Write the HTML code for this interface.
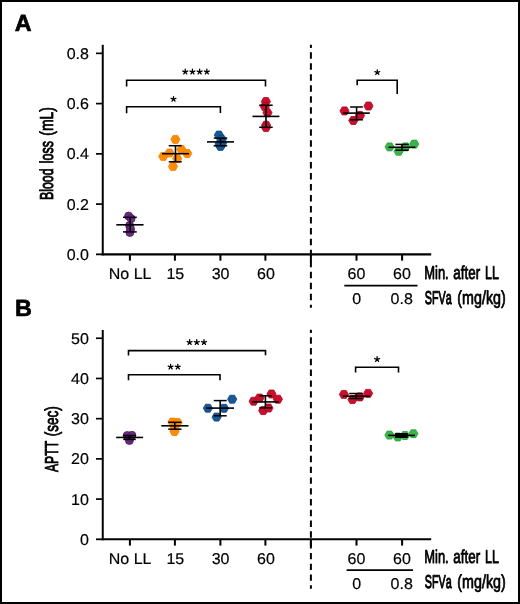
<!DOCTYPE html>
<html><head><meta charset="utf-8"><style>
html,body{margin:0;padding:0;background:#fff;}
body{width:520px;height:604px;overflow:hidden;}
svg{display:block;will-change:transform;}
text{font-family:"Liberation Sans", sans-serif;fill:#000;font-kerning:none;text-rendering:geometricPrecision;}
</style></head><body>
<svg width="520" height="604" viewBox="0 0 520 604">
<rect x="1" y="1" width="518" height="602" fill="#fff" stroke="#000" stroke-width="2"/>
<line x1="102.75" y1="44.8" x2="102.75" y2="255.35" stroke="#000" stroke-width="2" />
<line x1="96" y1="53.35" x2="102.75" y2="53.35" stroke="#000" stroke-width="1.7" />
<text transform="translate(88.90,58.95) scale(1.0000,0.9750)" font-size="16" text-anchor="end" stroke="#000" stroke-width="0.2" stroke-linejoin="round">0.8</text>
<line x1="96" y1="103.6" x2="102.75" y2="103.6" stroke="#000" stroke-width="1.7" />
<text transform="translate(88.90,109.20) scale(1.0000,0.9750)" font-size="16" text-anchor="end" stroke="#000" stroke-width="0.2" stroke-linejoin="round">0.6</text>
<line x1="96" y1="153.85" x2="102.75" y2="153.85" stroke="#000" stroke-width="1.7" />
<text transform="translate(88.90,159.45) scale(1.0000,0.9750)" font-size="16" text-anchor="end" stroke="#000" stroke-width="0.2" stroke-linejoin="round">0.4</text>
<line x1="96" y1="204.1" x2="102.75" y2="204.1" stroke="#000" stroke-width="1.7" />
<text transform="translate(88.90,209.70) scale(1.0000,0.9750)" font-size="16" text-anchor="end" stroke="#000" stroke-width="0.2" stroke-linejoin="round">0.2</text>
<line x1="96" y1="254.35" x2="102" y2="254.35" stroke="#000" stroke-width="1.8" />
<line x1="101.75" y1="254.35" x2="431.2" y2="254.35" stroke="#000" stroke-width="2.1" />
<line x1="129.9" y1="254.35" x2="129.9" y2="260.65" stroke="#000" stroke-width="2" />
<line x1="174.9" y1="254.35" x2="174.9" y2="260.65" stroke="#000" stroke-width="2" />
<line x1="220.4" y1="254.35" x2="220.4" y2="260.65" stroke="#000" stroke-width="2" />
<line x1="265.4" y1="254.35" x2="265.4" y2="260.65" stroke="#000" stroke-width="2" />
<line x1="356.5" y1="254.35" x2="356.5" y2="260.65" stroke="#000" stroke-width="2" />
<line x1="402.1" y1="254.35" x2="402.1" y2="260.65" stroke="#000" stroke-width="2" />
<text transform="translate(130.10,279.00) scale(1.0000,0.9750)" font-size="16" text-anchor="middle" stroke="#000" stroke-width="0.2" stroke-linejoin="round">No LL</text>
<text transform="translate(175.30,279.00) scale(1.0000,0.9750)" font-size="16" text-anchor="middle" stroke="#000" stroke-width="0.2" stroke-linejoin="round">15</text>
<text transform="translate(220.60,279.00) scale(1.0000,0.9750)" font-size="16" text-anchor="middle" stroke="#000" stroke-width="0.2" stroke-linejoin="round">30</text>
<text transform="translate(265.90,279.00) scale(1.0000,0.9750)" font-size="16" text-anchor="middle" stroke="#000" stroke-width="0.2" stroke-linejoin="round">60</text>
<text transform="translate(356.50,279.00) scale(1.0000,0.9750)" font-size="16" text-anchor="middle" stroke="#000" stroke-width="0.2" stroke-linejoin="round">60</text>
<text transform="translate(401.90,279.00) scale(1.0000,0.9750)" font-size="16" text-anchor="middle" stroke="#000" stroke-width="0.2" stroke-linejoin="round">60</text>
<line x1="344.3" y1="285.6" x2="417.5" y2="285.6" stroke="#000" stroke-width="1.8" />
<text transform="translate(356.70,304.00) scale(1.0000,0.9750)" font-size="16" text-anchor="middle" stroke="#000" stroke-width="0.2" stroke-linejoin="round">0</text>
<text transform="translate(401.70,304.00) scale(1.0000,0.9750)" font-size="16" text-anchor="middle" stroke="#000" stroke-width="0.2" stroke-linejoin="round">0.8</text>
<text transform="translate(424.24,278.72) scale(0.6810,0.9870)" font-size="19" stroke="#000" stroke-width="0.881" stroke-linejoin="round">Min.</text>
<text transform="translate(453.23,278.73) scale(0.7074,0.9894)" font-size="19" stroke="#000" stroke-width="0.848" stroke-linejoin="round">after</text>
<text transform="translate(484.97,278.70) scale(0.6598,0.9850)" font-size="19" stroke="#000" stroke-width="0.909" stroke-linejoin="round">LL</text>
<text transform="translate(424.81,303.53) scale(0.5658,0.9745)" font-size="19" stroke="#000" stroke-width="1.06" stroke-linejoin="round">SFVa</text>
<text transform="translate(457.31,303.65) scale(0.7528,0.9930)" font-size="19" stroke="#000" stroke-width="0.797" stroke-linejoin="round">(mg/kg)</text>
<text transform="translate(53.30,200.12) rotate(-90) scale(0.6527,0.9843)" font-size="19" stroke="#000" stroke-width="0.919" stroke-linejoin="round">Blood</text>
<text transform="translate(53.30,163.34) rotate(-90) scale(0.6599,0.9850)" font-size="19" stroke="#000" stroke-width="0.909" stroke-linejoin="round">loss</text>
<text transform="translate(53.34,135.66) rotate(-90) scale(0.7304,0.9913)" font-size="19" stroke="#000" stroke-width="0.821" stroke-linejoin="round">(mL)</text>
<text transform="translate(88.90,259.95) scale(1.0000,0.9750)" font-size="16" text-anchor="end" stroke="#000" stroke-width="0.2" stroke-linejoin="round">0.0</text>
<line x1="102.75" y1="330" x2="102.75" y2="540.3" stroke="#000" stroke-width="2" />
<line x1="96" y1="338.25" x2="102.75" y2="338.25" stroke="#000" stroke-width="1.7" />
<text transform="translate(88.90,343.85) scale(1.0000,0.9750)" font-size="16" text-anchor="end" stroke="#000" stroke-width="0.2" stroke-linejoin="round">50</text>
<line x1="96" y1="378.46" x2="102.75" y2="378.46" stroke="#000" stroke-width="1.7" />
<text transform="translate(88.90,384.06) scale(1.0000,0.9750)" font-size="16" text-anchor="end" stroke="#000" stroke-width="0.2" stroke-linejoin="round">40</text>
<line x1="96" y1="418.67" x2="102.75" y2="418.67" stroke="#000" stroke-width="1.7" />
<text transform="translate(88.90,424.27) scale(1.0000,0.9750)" font-size="16" text-anchor="end" stroke="#000" stroke-width="0.2" stroke-linejoin="round">30</text>
<line x1="96" y1="458.88" x2="102.75" y2="458.88" stroke="#000" stroke-width="1.7" />
<text transform="translate(88.90,464.48) scale(1.0000,0.9750)" font-size="16" text-anchor="end" stroke="#000" stroke-width="0.2" stroke-linejoin="round">20</text>
<line x1="96" y1="499.09" x2="102.75" y2="499.09" stroke="#000" stroke-width="1.7" />
<text transform="translate(88.90,504.69) scale(1.0000,0.9750)" font-size="16" text-anchor="end" stroke="#000" stroke-width="0.2" stroke-linejoin="round">10</text>
<line x1="96" y1="539.3" x2="102" y2="539.3" stroke="#000" stroke-width="1.8" />
<line x1="101.75" y1="539.3" x2="431.2" y2="539.3" stroke="#000" stroke-width="2.1" />
<line x1="129.9" y1="539.3" x2="129.9" y2="545.5999999999999" stroke="#000" stroke-width="2" />
<line x1="174.9" y1="539.3" x2="174.9" y2="545.5999999999999" stroke="#000" stroke-width="2" />
<line x1="220.4" y1="539.3" x2="220.4" y2="545.5999999999999" stroke="#000" stroke-width="2" />
<line x1="265.4" y1="539.3" x2="265.4" y2="545.5999999999999" stroke="#000" stroke-width="2" />
<line x1="356.5" y1="539.3" x2="356.5" y2="545.5999999999999" stroke="#000" stroke-width="2" />
<line x1="402.1" y1="539.3" x2="402.1" y2="545.5999999999999" stroke="#000" stroke-width="2" />
<text transform="translate(130.10,563.70) scale(1.0000,0.9750)" font-size="16" text-anchor="middle" stroke="#000" stroke-width="0.2" stroke-linejoin="round">No LL</text>
<text transform="translate(175.30,563.70) scale(1.0000,0.9750)" font-size="16" text-anchor="middle" stroke="#000" stroke-width="0.2" stroke-linejoin="round">15</text>
<text transform="translate(220.60,563.70) scale(1.0000,0.9750)" font-size="16" text-anchor="middle" stroke="#000" stroke-width="0.2" stroke-linejoin="round">30</text>
<text transform="translate(265.90,563.70) scale(1.0000,0.9750)" font-size="16" text-anchor="middle" stroke="#000" stroke-width="0.2" stroke-linejoin="round">60</text>
<text transform="translate(356.50,563.70) scale(1.0000,0.9750)" font-size="16" text-anchor="middle" stroke="#000" stroke-width="0.2" stroke-linejoin="round">60</text>
<text transform="translate(401.90,563.70) scale(1.0000,0.9750)" font-size="16" text-anchor="middle" stroke="#000" stroke-width="0.2" stroke-linejoin="round">60</text>
<line x1="346.6" y1="570.1" x2="413" y2="570.1" stroke="#000" stroke-width="1.8" />
<text transform="translate(356.70,588.60) scale(1.0000,0.9750)" font-size="16" text-anchor="middle" stroke="#000" stroke-width="0.2" stroke-linejoin="round">0</text>
<text transform="translate(401.70,588.60) scale(1.0000,0.9750)" font-size="16" text-anchor="middle" stroke="#000" stroke-width="0.2" stroke-linejoin="round">0.8</text>
<text transform="translate(424.24,563.42) scale(0.6810,0.9870)" font-size="19" stroke="#000" stroke-width="0.881" stroke-linejoin="round">Min.</text>
<text transform="translate(453.23,563.43) scale(0.7074,0.9894)" font-size="19" stroke="#000" stroke-width="0.848" stroke-linejoin="round">after</text>
<text transform="translate(484.97,563.40) scale(0.6598,0.9850)" font-size="19" stroke="#000" stroke-width="0.909" stroke-linejoin="round">LL</text>
<text transform="translate(424.81,588.13) scale(0.5658,0.9745)" font-size="19" stroke="#000" stroke-width="1.06" stroke-linejoin="round">SFVa</text>
<text transform="translate(457.31,588.25) scale(0.7528,0.9930)" font-size="19" stroke="#000" stroke-width="0.797" stroke-linejoin="round">(mg/kg)</text>
<text transform="translate(57.79,472.02) rotate(-90) scale(0.6405,0.9831)" font-size="19" stroke="#000" stroke-width="0.937" stroke-linejoin="round">APTT</text>
<text transform="translate(57.83,436.34) rotate(-90) scale(0.7099,0.9896)" font-size="19" stroke="#000" stroke-width="0.845" stroke-linejoin="round">(sec)</text>
<text transform="translate(88.90,544.90) scale(1.0000,0.9750)" font-size="16" text-anchor="end" stroke="#000" stroke-width="0.2" stroke-linejoin="round">0</text>
<line x1="310.9" y1="44.75" x2="310.9" y2="307.8" stroke="#000" stroke-width="2" stroke-dasharray="6.5 4.47" stroke-dashoffset="3.35"/>
<line x1="310.9" y1="329.8" x2="310.9" y2="588.7" stroke="#000" stroke-width="2" stroke-dasharray="6.4 4.38" stroke-dashoffset="3.3"/>
<line x1="310.9" y1="254.35" x2="310.9" y2="261.5" stroke="#000" stroke-width="2" />
<line x1="310.9" y1="539.3" x2="310.9" y2="546.5" stroke="#000" stroke-width="2" />
<path d="M126.6,86.6 L126.6,80.3 L265.5,80.3 L265.5,86.4" fill="none" stroke="#000" stroke-width="1.6"/>
<path d="M126.6,113.2 L126.6,106.8 L220.4,106.8 L220.4,112.9" fill="none" stroke="#000" stroke-width="1.6"/>
<path d="M357.2,85.3 L357.2,80.2 L397.2,80.2 L397.2,94" fill="none" stroke="#000" stroke-width="1.6"/>
<path d="M185.25,71.80 L185.25,69.25 M185.25,71.80 L187.68,71.01 M185.25,71.80 L186.75,73.86 M185.25,71.80 L183.75,73.86 M185.25,71.80 L182.82,71.01 " stroke="#000" stroke-width="1.3" stroke-linecap="round" fill="none"/>
<path d="M192.45,71.80 L192.45,69.25 M192.45,71.80 L194.88,71.01 M192.45,71.80 L193.95,73.86 M192.45,71.80 L190.95,73.86 M192.45,71.80 L190.02,71.01 " stroke="#000" stroke-width="1.3" stroke-linecap="round" fill="none"/>
<path d="M199.65,71.80 L199.65,69.25 M199.65,71.80 L202.08,71.01 M199.65,71.80 L201.15,73.86 M199.65,71.80 L198.15,73.86 M199.65,71.80 L197.22,71.01 " stroke="#000" stroke-width="1.3" stroke-linecap="round" fill="none"/>
<path d="M206.85,71.80 L206.85,69.25 M206.85,71.80 L209.28,71.01 M206.85,71.80 L208.35,73.86 M206.85,71.80 L205.35,73.86 M206.85,71.80 L204.42,71.01 " stroke="#000" stroke-width="1.3" stroke-linecap="round" fill="none"/>
<path d="M173.50,99.10 L173.50,96.55 M173.50,99.10 L175.93,98.31 M173.50,99.10 L175.00,101.16 M173.50,99.10 L172.00,101.16 M173.50,99.10 L171.07,98.31 " stroke="#000" stroke-width="1.3" stroke-linecap="round" fill="none"/>
<path d="M377.30,72.40 L377.30,69.85 M377.30,72.40 L379.73,71.61 M377.30,72.40 L378.80,74.46 M377.30,72.40 L375.80,74.46 M377.30,72.40 L374.87,71.61 " stroke="#000" stroke-width="1.3" stroke-linecap="round" fill="none"/>
<path d="M128.5,355.6 L128.5,350.6 L265.5,350.6 L265.5,355.3" fill="none" stroke="#000" stroke-width="1.6"/>
<path d="M128.5,380.3 L128.5,374.8 L220,374.8 L220,380.3" fill="none" stroke="#000" stroke-width="1.6"/>
<path d="M355.6,372.5 L355.6,367.25 L398.5,367.25 L398.5,372.5" fill="none" stroke="#000" stroke-width="1.6"/>
<path d="M189.60,342.30 L189.60,339.75 M189.60,342.30 L192.03,341.51 M189.60,342.30 L191.10,344.36 M189.60,342.30 L188.10,344.36 M189.60,342.30 L187.17,341.51 " stroke="#000" stroke-width="1.3" stroke-linecap="round" fill="none"/>
<path d="M196.80,342.30 L196.80,339.75 M196.80,342.30 L199.23,341.51 M196.80,342.30 L198.30,344.36 M196.80,342.30 L195.30,344.36 M196.80,342.30 L194.37,341.51 " stroke="#000" stroke-width="1.3" stroke-linecap="round" fill="none"/>
<path d="M204.00,342.30 L204.00,339.75 M204.00,342.30 L206.43,341.51 M204.00,342.30 L205.50,344.36 M204.00,342.30 L202.50,344.36 M204.00,342.30 L201.57,341.51 " stroke="#000" stroke-width="1.3" stroke-linecap="round" fill="none"/>
<path d="M170.60,366.90 L170.60,364.35 M170.60,366.90 L173.03,366.11 M170.60,366.90 L172.10,368.96 M170.60,366.90 L169.10,368.96 M170.60,366.90 L168.17,366.11 " stroke="#000" stroke-width="1.3" stroke-linecap="round" fill="none"/>
<path d="M177.80,366.90 L177.80,364.35 M177.80,366.90 L180.23,366.11 M177.80,366.90 L179.30,368.96 M177.80,366.90 L176.30,368.96 M177.80,366.90 L175.37,366.11 " stroke="#000" stroke-width="1.3" stroke-linecap="round" fill="none"/>
<path d="M377.10,359.30 L377.10,356.75 M377.10,359.30 L379.53,358.51 M377.10,359.30 L378.60,361.36 M377.10,359.30 L375.60,361.36 M377.10,359.30 L374.67,358.51 " stroke="#000" stroke-width="1.3" stroke-linecap="round" fill="none"/>
<circle cx="128.6" cy="216.1" r="4.0" fill="#6c2c82" stroke="#4f1766" stroke-width="0.8"/>
<circle cx="131.1" cy="218.6" r="4.0" fill="#6c2c82" stroke="#4f1766" stroke-width="0.8"/>
<circle cx="129.6" cy="225.5" r="4.0" fill="#6c2c82" stroke="#4f1766" stroke-width="0.8"/>
<circle cx="130.6" cy="229.2" r="4.0" fill="#6c2c82" stroke="#4f1766" stroke-width="0.8"/>
<circle cx="129.9" cy="232.5" r="4.0" fill="#6c2c82" stroke="#4f1766" stroke-width="0.8"/>
<line x1="116.3" y1="224.8" x2="143.6" y2="224.8" stroke="#000" stroke-width="1.6" />
<line x1="123" y1="217.3" x2="136.8" y2="217.3" stroke="#000" stroke-width="1.5" />
<line x1="123" y1="231.9" x2="136.8" y2="231.9" stroke="#000" stroke-width="1.5" />
<line x1="130.2" y1="217.3" x2="130.2" y2="231.9" stroke="#000" stroke-width="1.6" />
<path d="M170.80,139.40 L173.10,135.42 L177.70,135.42 L180.00,139.40 L177.70,143.38 L173.10,143.38Z" fill="#ff8c00" stroke="#f08000" stroke-width="0.8"/>
<path d="M158.60,156.40 L160.90,152.42 L165.50,152.42 L167.80,156.40 L165.50,160.38 L160.90,160.38Z" fill="#ff8c00" stroke="#f08000" stroke-width="0.8"/>
<path d="M164.90,153.00 L167.20,149.02 L171.80,149.02 L174.10,153.00 L171.80,156.98 L167.20,156.98Z" fill="#ff8c00" stroke="#f08000" stroke-width="0.8"/>
<path d="M176.80,149.40 L179.10,145.42 L183.70,145.42 L186.00,149.40 L183.70,153.38 L179.10,153.38Z" fill="#ff8c00" stroke="#f08000" stroke-width="0.8"/>
<path d="M182.60,153.50 L184.90,149.52 L189.50,149.52 L191.80,153.50 L189.50,157.48 L184.90,157.48Z" fill="#ff8c00" stroke="#f08000" stroke-width="0.8"/>
<path d="M172.60,158.60 L174.90,154.62 L179.50,154.62 L181.80,158.60 L179.50,162.58 L174.90,162.58Z" fill="#ff8c00" stroke="#f08000" stroke-width="0.8"/>
<path d="M168.40,166.50 L170.70,162.52 L175.30,162.52 L177.60,166.50 L175.30,170.48 L170.70,170.48Z" fill="#ff8c00" stroke="#f08000" stroke-width="0.8"/>
<line x1="162" y1="153.7" x2="189" y2="153.7" stroke="#000" stroke-width="1.6" />
<line x1="168.75" y1="145.7" x2="181.7" y2="145.7" stroke="#000" stroke-width="1.5" />
<line x1="168.75" y1="161.8" x2="181.7" y2="161.8" stroke="#000" stroke-width="1.5" />
<line x1="175.5" y1="145.7" x2="175.5" y2="161.8" stroke="#000" stroke-width="1.6" />
<path d="M214.30,135.10 L216.60,131.12 L221.20,131.12 L223.50,135.10 L221.20,139.08 L216.60,139.08Z" fill="#1a5894" stroke="#08447f" stroke-width="0.8"/>
<path d="M217.20,139.40 L219.50,135.42 L224.10,135.42 L226.40,139.40 L224.10,143.38 L219.50,143.38Z" fill="#1a5894" stroke="#08447f" stroke-width="0.8"/>
<path d="M217.40,143.30 L219.70,139.32 L224.30,139.32 L226.60,143.30 L224.30,147.28 L219.70,147.28Z" fill="#1a5894" stroke="#08447f" stroke-width="0.8"/>
<path d="M215.00,144.00 L217.30,140.02 L221.90,140.02 L224.20,144.00 L221.90,147.98 L217.30,147.98Z" fill="#1a5894" stroke="#08447f" stroke-width="0.8"/>
<path d="M215.90,146.40 L218.20,142.42 L222.80,142.42 L225.10,146.40 L222.80,150.38 L218.20,150.38Z" fill="#1a5894" stroke="#08447f" stroke-width="0.8"/>
<line x1="207" y1="141.9" x2="234" y2="141.9" stroke="#000" stroke-width="1.6" />
<line x1="213.75" y1="138.1" x2="227.2" y2="138.1" stroke="#000" stroke-width="1.5" />
<line x1="213.75" y1="145.8" x2="227.2" y2="145.8" stroke="#000" stroke-width="1.5" />
<line x1="220.5" y1="138.1" x2="220.5" y2="145.8" stroke="#000" stroke-width="1.6" />
<path d="M261.30,101.50 L263.60,97.52 L268.20,97.52 L270.50,101.50 L268.20,105.48 L263.60,105.48Z" fill="#c8102e" stroke="#b50020" stroke-width="0.8"/>
<path d="M260.20,106.60 L262.50,102.62 L267.10,102.62 L269.40,106.60 L267.10,110.58 L262.50,110.58Z" fill="#c8102e" stroke="#b50020" stroke-width="0.8"/>
<path d="M262.90,112.80 L265.20,108.82 L269.80,108.82 L272.10,112.80 L269.80,116.78 L265.20,116.78Z" fill="#c8102e" stroke="#b50020" stroke-width="0.8"/>
<path d="M261.50,125.20 L263.80,121.22 L268.40,121.22 L270.70,125.20 L268.40,129.18 L263.80,129.18Z" fill="#c8102e" stroke="#b50020" stroke-width="0.8"/>
<path d="M261.40,127.50 L263.70,123.52 L268.30,123.52 L270.60,127.50 L268.30,131.48 L263.70,131.48Z" fill="#c8102e" stroke="#b50020" stroke-width="0.8"/>
<line x1="252.5" y1="116.4" x2="279.4" y2="116.4" stroke="#000" stroke-width="1.6" />
<line x1="259.2" y1="105.2" x2="272.7" y2="105.2" stroke="#000" stroke-width="1.5" />
<line x1="259.2" y1="127.3" x2="272.7" y2="127.3" stroke="#000" stroke-width="1.5" />
<line x1="266" y1="105.2" x2="266" y2="127.3" stroke="#000" stroke-width="1.6" />
<path d="M339.90,110.90 L342.20,106.92 L346.80,106.92 L349.10,110.90 L346.80,114.88 L342.20,114.88Z" fill="#c8102e" stroke="#b50020" stroke-width="0.8"/>
<path d="M363.90,106.00 L366.20,102.02 L370.80,102.02 L373.10,106.00 L370.80,109.98 L366.20,109.98Z" fill="#c8102e" stroke="#b50020" stroke-width="0.8"/>
<path d="M355.40,115.50 L357.70,111.52 L362.30,111.52 L364.60,115.50 L362.30,119.48 L357.70,119.48Z" fill="#c8102e" stroke="#b50020" stroke-width="0.8"/>
<path d="M348.70,120.50 L351.00,116.52 L355.60,116.52 L357.90,120.50 L355.60,124.48 L351.00,124.48Z" fill="#c8102e" stroke="#b50020" stroke-width="0.8"/>
<line x1="343.2" y1="113.1" x2="369.8" y2="113.1" stroke="#000" stroke-width="1.6" />
<line x1="350.1" y1="107" x2="362.9" y2="107" stroke="#000" stroke-width="1.5" />
<line x1="350.1" y1="119.8" x2="362.9" y2="119.8" stroke="#000" stroke-width="1.5" />
<line x1="356.6" y1="107" x2="356.6" y2="119.8" stroke="#000" stroke-width="1.6" />
<path d="M385.00,146.90 L387.30,142.92 L391.90,142.92 L394.20,146.90 L391.90,150.88 L387.30,150.88Z" fill="#3cb44b" stroke="#27a23a" stroke-width="0.8"/>
<path d="M409.60,144.10 L411.90,140.12 L416.50,140.12 L418.80,144.10 L416.50,148.08 L411.90,148.08Z" fill="#3cb44b" stroke="#27a23a" stroke-width="0.8"/>
<path d="M394.00,151.30 L396.30,147.32 L400.90,147.32 L403.20,151.30 L400.90,155.28 L396.30,155.28Z" fill="#3cb44b" stroke="#27a23a" stroke-width="0.8"/>
<path d="M400.90,146.90 L403.20,142.92 L407.80,142.92 L410.10,146.90 L407.80,150.88 L403.20,150.88Z" fill="#3cb44b" stroke="#27a23a" stroke-width="0.8"/>
<line x1="388.5" y1="147.3" x2="415.4" y2="147.3" stroke="#000" stroke-width="1.6" />
<line x1="395.4" y1="144.4" x2="408.7" y2="144.4" stroke="#000" stroke-width="1.5" />
<line x1="395.4" y1="150.2" x2="408.7" y2="150.2" stroke="#000" stroke-width="1.5" />
<line x1="402" y1="144.4" x2="402" y2="150.2" stroke="#000" stroke-width="1.6" />
<circle cx="127.2" cy="435.5" r="4.0" fill="#6c2c82" stroke="#4f1766" stroke-width="0.8"/>
<circle cx="131.9" cy="435.3" r="4.0" fill="#6c2c82" stroke="#4f1766" stroke-width="0.8"/>
<circle cx="129.4" cy="440.5" r="4.0" fill="#6c2c82" stroke="#4f1766" stroke-width="0.8"/>
<circle cx="129.6" cy="437.8" r="4.0" fill="#6c2c82" stroke="#4f1766" stroke-width="0.8"/>
<line x1="116.2" y1="437.45" x2="143.1" y2="437.45" stroke="#000" stroke-width="1.6" />
<line x1="123.2" y1="435.5" x2="135.8" y2="435.5" stroke="#000" stroke-width="1.5" />
<line x1="123.2" y1="439.4" x2="135.8" y2="439.4" stroke="#000" stroke-width="1.5" />
<line x1="129.5" y1="435.5" x2="129.5" y2="439.4" stroke="#000" stroke-width="1.6" />
<path d="M167.90,422.00 L170.20,418.02 L174.80,418.02 L177.10,422.00 L174.80,425.98 L170.20,425.98Z" fill="#ff8c00" stroke="#f08000" stroke-width="0.8"/>
<path d="M172.90,422.50 L175.20,418.52 L179.80,418.52 L182.10,422.50 L179.80,426.48 L175.20,426.48Z" fill="#ff8c00" stroke="#f08000" stroke-width="0.8"/>
<path d="M169.90,427.00 L172.20,423.02 L176.80,423.02 L179.10,427.00 L176.80,430.98 L172.20,430.98Z" fill="#ff8c00" stroke="#f08000" stroke-width="0.8"/>
<path d="M169.90,431.50 L172.20,427.52 L176.80,427.52 L179.10,431.50 L176.80,435.48 L172.20,435.48Z" fill="#ff8c00" stroke="#f08000" stroke-width="0.8"/>
<line x1="161.3" y1="425.8" x2="188.5" y2="425.8" stroke="#000" stroke-width="1.6" />
<line x1="168.2" y1="422.3" x2="181.5" y2="422.3" stroke="#000" stroke-width="1.5" />
<line x1="168.2" y1="429.2" x2="181.5" y2="429.2" stroke="#000" stroke-width="1.5" />
<line x1="174.8" y1="422.3" x2="174.8" y2="429.2" stroke="#000" stroke-width="1.6" />
<path d="M203.30,408.20 L205.60,404.22 L210.20,404.22 L212.50,408.20 L210.20,412.18 L205.60,412.18Z" fill="#1a5894" stroke="#08447f" stroke-width="0.8"/>
<path d="M227.60,399.20 L229.90,395.22 L234.50,395.22 L236.80,399.20 L234.50,403.18 L229.90,403.18Z" fill="#1a5894" stroke="#08447f" stroke-width="0.8"/>
<path d="M219.40,408.30 L221.70,404.32 L226.30,404.32 L228.60,408.30 L226.30,412.28 L221.70,412.28Z" fill="#1a5894" stroke="#08447f" stroke-width="0.8"/>
<path d="M212.00,417.10 L214.30,413.12 L218.90,413.12 L221.20,417.10 L218.90,421.08 L214.30,421.08Z" fill="#1a5894" stroke="#08447f" stroke-width="0.8"/>
<line x1="206" y1="408.1" x2="234" y2="408.1" stroke="#000" stroke-width="1.6" />
<line x1="213.75" y1="400.6" x2="226.7" y2="400.6" stroke="#000" stroke-width="1.5" />
<line x1="213.75" y1="415.8" x2="226.7" y2="415.8" stroke="#000" stroke-width="1.5" />
<line x1="220.2" y1="400.6" x2="220.2" y2="415.8" stroke="#000" stroke-width="1.6" />
<path d="M249.00,401.20 L251.30,397.22 L255.90,397.22 L258.20,401.20 L255.90,405.18 L251.30,405.18Z" fill="#c8102e" stroke="#b50020" stroke-width="0.8"/>
<path d="M254.90,398.00 L257.20,394.02 L261.80,394.02 L264.10,398.00 L261.80,401.98 L257.20,401.98Z" fill="#c8102e" stroke="#b50020" stroke-width="0.8"/>
<path d="M266.90,394.00 L269.20,390.02 L273.80,390.02 L276.10,394.00 L273.80,397.98 L269.20,397.98Z" fill="#c8102e" stroke="#b50020" stroke-width="0.8"/>
<path d="M273.30,399.20 L275.60,395.22 L280.20,395.22 L282.50,399.20 L280.20,403.18 L275.60,403.18Z" fill="#c8102e" stroke="#b50020" stroke-width="0.8"/>
<path d="M258.60,410.60 L260.90,406.62 L265.50,406.62 L267.80,410.60 L265.50,414.58 L260.90,414.58Z" fill="#c8102e" stroke="#b50020" stroke-width="0.8"/>
<path d="M263.90,408.00 L266.20,404.02 L270.80,404.02 L273.10,408.00 L270.80,411.98 L266.20,411.98Z" fill="#c8102e" stroke="#b50020" stroke-width="0.8"/>
<line x1="251.9" y1="401.9" x2="278.8" y2="401.9" stroke="#000" stroke-width="1.6" />
<line x1="259.2" y1="395.8" x2="271.9" y2="395.8" stroke="#000" stroke-width="1.5" />
<line x1="259.2" y1="407.9" x2="271.9" y2="407.9" stroke="#000" stroke-width="1.5" />
<line x1="265.4" y1="395.8" x2="265.4" y2="407.9" stroke="#000" stroke-width="1.6" />
<path d="M339.30,394.40 L341.60,390.42 L346.20,390.42 L348.50,394.40 L346.20,398.38 L341.60,398.38Z" fill="#c8102e" stroke="#b50020" stroke-width="0.8"/>
<path d="M363.50,393.40 L365.80,389.42 L370.40,389.42 L372.70,393.40 L370.40,397.38 L365.80,397.38Z" fill="#c8102e" stroke="#b50020" stroke-width="0.8"/>
<path d="M347.90,399.60 L350.20,395.62 L354.80,395.62 L357.10,399.60 L354.80,403.58 L350.20,403.58Z" fill="#c8102e" stroke="#b50020" stroke-width="0.8"/>
<path d="M355.20,396.90 L357.50,392.92 L362.10,392.92 L364.40,396.90 L362.10,400.88 L357.50,400.88Z" fill="#c8102e" stroke="#b50020" stroke-width="0.8"/>
<line x1="342.7" y1="396.2" x2="370" y2="396.2" stroke="#000" stroke-width="1.6" />
<line x1="349.2" y1="393.5" x2="362.7" y2="393.5" stroke="#000" stroke-width="1.5" />
<line x1="349.2" y1="398.5" x2="362.7" y2="398.5" stroke="#000" stroke-width="1.5" />
<line x1="356" y1="393.5" x2="356" y2="398.5" stroke="#000" stroke-width="1.6" />
<path d="M384.80,435.10 L387.10,431.12 L391.70,431.12 L394.00,435.10 L391.70,439.08 L387.10,439.08Z" fill="#3cb44b" stroke="#27a23a" stroke-width="0.8"/>
<path d="M408.80,433.70 L411.10,429.72 L415.70,429.72 L418.00,433.70 L415.70,437.68 L411.10,437.68Z" fill="#3cb44b" stroke="#27a23a" stroke-width="0.8"/>
<path d="M393.20,437.00 L395.50,433.02 L400.10,433.02 L402.40,437.00 L400.10,440.98 L395.50,440.98Z" fill="#3cb44b" stroke="#27a23a" stroke-width="0.8"/>
<path d="M400.40,435.50 L402.70,431.52 L407.30,431.52 L409.60,435.50 L407.30,439.48 L402.70,439.48Z" fill="#3cb44b" stroke="#27a23a" stroke-width="0.8"/>
<line x1="388.1" y1="435.4" x2="415" y2="435.4" stroke="#000" stroke-width="1.6" />
<line x1="395" y1="433.8" x2="407.7" y2="433.8" stroke="#000" stroke-width="1.5" />
<line x1="395" y1="437" x2="407.7" y2="437" stroke="#000" stroke-width="1.5" />
<line x1="401.5" y1="433.8" x2="401.5" y2="437" stroke="#000" stroke-width="1.6" />
<rect x="395" y="433.2" width="12.7" height="4.4" fill="#000"/>
<text transform="translate(14.68,31.37)" font-size="23.3" font-weight="bold" stroke="#000" stroke-width="0.7" stroke-linejoin="round">A</text>
<text transform="translate(14.90,316.42)" font-size="23.3" font-weight="bold" stroke="#000" stroke-width="0.7" stroke-linejoin="round">B</text>
</svg>
</body></html>
